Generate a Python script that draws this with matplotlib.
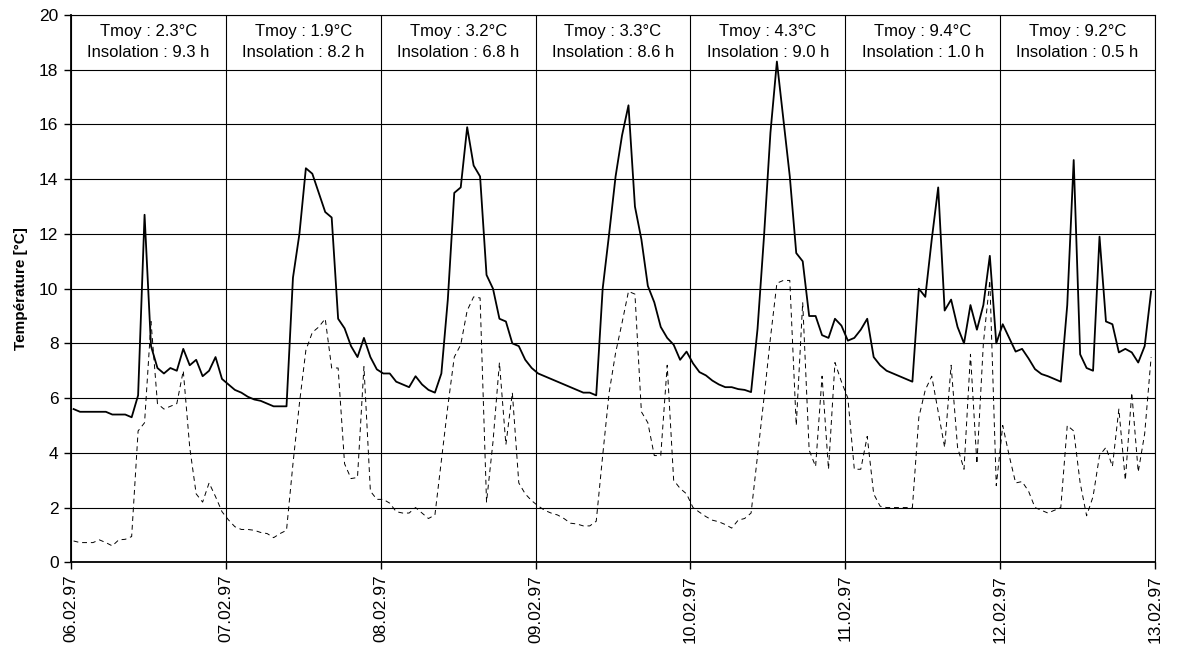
import numpy as np
import matplotlib.pyplot as plt

plt.rcParams["font.family"] = ["Liberation Sans", "DejaVu Sans"]

DATES = ["06.02.97", "07.02.97", "08.02.97", "09.02.97",
         "10.02.97", "11.02.97", "12.02.97", "13.02.97"]
TMOY = [2.3, 1.9, 3.2, 3.3, 4.3, 9.4, 9.2]
INSOLATION = [9.3, 8.2, 6.8, 8.6, 9.0, 1.0, 0.5]

# hourly values, one list of 24 per day
SOLID_DAYS = [
    [5.6, 5.5, 5.5, 5.5, 5.5, 5.5, 5.4, 5.4, 5.4, 5.3, 6.1, 12.7,
     7.9, 7.1, 6.9, 7.1, 7.0, 7.8, 7.2, 7.4, 6.8, 7.0, 7.5, 6.7],
    [6.5, 6.3, 6.2, 6.05, 5.95, 5.9, 5.8, 5.7, 5.7, 5.7, 10.4, 12.0,
     14.4, 14.2, 13.5, 12.8, 12.6, 8.9, 8.55, 7.9, 7.5, 8.2, 7.5, 7.05],
    [6.9, 6.9, 6.6, 6.5, 6.4, 6.8, 6.5, 6.3, 6.2, 6.9, 9.6, 13.5,
     13.7, 15.9, 14.5, 14.1, 10.5, 10.0, 8.9, 8.8, 8.0, 7.9, 7.4, 7.1],
    [6.9, 6.8, 6.7, 6.6, 6.5, 6.4, 6.3, 6.2, 6.2, 6.1, 10.0, 12.0,
     14.1, 15.6, 16.7, 13.0, 11.8, 10.1, 9.5, 8.6, 8.2, 7.95, 7.4, 7.7],
    [7.27, 6.95, 6.83, 6.64, 6.5, 6.4, 6.4, 6.33, 6.3, 6.22, 8.53, 11.9,
     15.7, 18.3, 16.2, 14.1, 11.3, 11.0, 9.0, 9.0, 8.3, 8.2, 8.9, 8.65],
    [8.1, 8.2, 8.5, 8.9, 7.5, 7.2, 7.0, 6.9, 6.8, 6.7, 6.6, 10.0,
     9.7, 11.8, 13.7, 9.2, 9.6, 8.6, 8.0, 9.4, 8.5, 9.4, 11.2, 8.0],
    [8.7, 8.2, 7.7, 7.8, 7.45, 7.06, 6.88, 6.8, 6.7, 6.6, 9.4, 14.7,
     7.6, 7.1, 7.0, 11.9, 8.8, 8.7, 7.67, 7.8, 7.67, 7.3, 7.9, 9.9],
]

DASHED_DAYS = [
    [0.78, 0.72, 0.72, 0.72, 0.82, 0.72, 0.6, 0.82, 0.84, 0.94, 4.8, 5.1,
     8.8, 5.8, 5.6, 5.7, 5.8, 7.0, 4.2, 2.5, 2.2, 2.9, 2.4, 1.85],
    [1.55, 1.3, 1.2, 1.2, 1.17, 1.09, 1.05, 0.9, 1.05, 1.17, 3.6, 5.8,
     7.75, 8.4, 8.6, 8.9, 7.1, 7.1, 3.6, 3.06, 3.1, 7.15, 2.6, 2.3],
    [2.3, 2.16, 1.85, 1.8, 1.8, 2.0, 1.8, 1.6, 1.73, 3.7, 5.7, 7.5,
     7.95, 9.2, 9.7, 9.66, 2.2, 4.4, 7.3, 4.3, 6.2, 2.9, 2.5, 2.25],
    [2.06, 1.9, 1.8, 1.73, 1.6, 1.43, 1.4, 1.33, 1.33, 1.5, 3.9, 6.2,
     7.65, 8.75, 9.9, 9.8, 5.5, 5.1, 3.9, 3.9, 7.2, 3.0, 2.7, 2.5],
    [2.0, 1.83, 1.67, 1.54, 1.48, 1.38, 1.25, 1.54, 1.6, 1.8, 3.9, 6.0,
     8.2, 10.2, 10.3, 10.3, 5.0, 9.5, 4.1, 3.5, 6.8, 3.4, 7.3, 6.6],
    [6.0, 3.4, 3.4, 4.6, 2.5, 2.05, 2.0, 2.0, 2.0, 2.0, 2.0, 5.3,
     6.3, 6.8, 5.5, 4.2, 7.2, 4.2, 3.4, 7.6, 3.6, 8.0, 10.3, 2.8],
    [5.0, 3.9, 2.9, 2.95, 2.6, 2.0, 1.9, 1.8, 1.9, 2.0, 5.0, 4.8,
     2.9, 1.7, 2.4, 3.9, 4.2, 3.5, 5.6, 3.0, 6.2, 3.3, 4.7, 7.5],
]


def main():
    solid = np.concatenate(SOLID_DAYS)
    dashed = np.concatenate(DASHED_DAYS)
    hours = np.arange(len(solid))
    x = (hours + 0.4) / 24.0

    fig = plt.figure(figsize=(11.77, 6.53), dpi=100)
    ax = fig.add_axes([71 / 1177, 90.7 / 653, 1084 / 1177, 547.3 / 653])

    ax.plot(x, solid, color="black", linewidth=1.3)
    ax.plot(x, dashed, color="black", linewidth=0.7, dashes=(5, 4))

    n_days = len(DATES) - 1
    ax.set_xlim(0, n_days)
    ax.set_ylim(0, 20)
    ax.set_xticks(range(n_days + 1))
    ax.set_xticklabels(DATES, rotation=90, fontsize=12.5)
    ax.set_yticks(range(0, 21, 2))
    ax.tick_params(axis="y", labelsize=12.5, direction="out", length=5, width=1, pad=4)
    ax.tick_params(axis="x", direction="out", length=5, width=1, pad=4)
    ax.grid(True, color="black", linewidth=0.8)
    ax.set_axisbelow(True)
    for side in ["left", "bottom"]:
        ax.spines[side].set_linewidth(1.3)
    for side in ["top", "right"]:
        ax.spines[side].set_linewidth(0.8)

    ax.set_ylabel("Température [°C]", fontsize=11, fontweight="bold", labelpad=8)

    for d in range(n_days):
        ax.text(d + 0.5, 19.02,
                f"Tmoy : {TMOY[d]:.1f}°C\nInsolation : {INSOLATION[d]:.1f} h",
                ha="center", va="center", fontsize=12, linespacing=1.5)

    fig.savefig("out.png", dpi=100)
    plt.close(fig)


if __name__ == "__main__":
    main()
